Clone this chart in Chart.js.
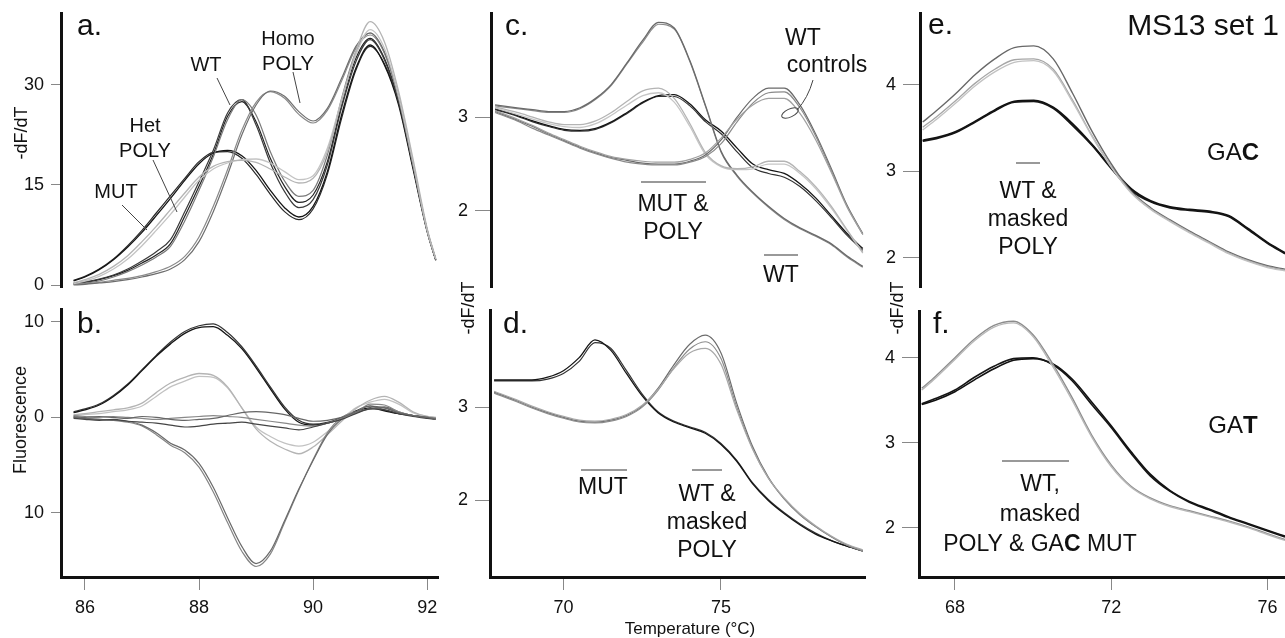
<!DOCTYPE html>
<html>
<head>
<meta charset="utf-8">
<script src="https://cdn.jsdelivr.net/npm/chart.js@4.4.1/dist/chart.umd.min.js"></script>
<style>
  body { margin: 0; background: #fff; }
  #fig { position: relative; width: 1285px; height: 638px; overflow: hidden; font-family: 'Liberation Sans', Arial, sans-serif; color: #111; }
  #fig canvas { position: absolute; }
  .lbl { position: absolute; white-space: nowrap; line-height: 1; transform: translateX(-50%); }
  .lft { position: absolute; white-space: nowrap; line-height: 1; }
  .rot { position: absolute; white-space: nowrap; line-height: 1; transform: translate(-50%, -50%) rotate(-90deg); font-size: 18px; }
  svg { position: absolute; left: 0; top: 0; }
</style>
</head>
<body>
<div id="fig">
  <canvas id="pa"></canvas>
  <canvas id="pb"></canvas>
  <canvas id="pc"></canvas>
  <canvas id="pd"></canvas>
  <canvas id="pe"></canvas>
  <canvas id="pf"></canvas>
  <svg width="1285" height="638">
    <g stroke="#444" stroke-width="1" fill="none">
      <line x1="217" y1="78" x2="230" y2="105"/>
      <line x1="293" y1="72" x2="300" y2="103"/>
      <line x1="153" y1="160" x2="177" y2="212"/>
      <line x1="122" y1="205" x2="147" y2="230"/>
      <path d="M813 80 Q808 98 797 110"/>
      <ellipse cx="790" cy="113" rx="9" ry="4" transform="rotate(-25 790 113)"/>
    </g>
    <g stroke="#777" stroke-width="1.5">
      <line x1="641" y1="182" x2="706" y2="182"/>
      <line x1="764" y1="255" x2="798" y2="255"/>
      <line x1="581" y1="470" x2="627" y2="470"/>
      <line x1="692" y1="470" x2="722" y2="470"/>
      <line x1="1016" y1="163" x2="1040" y2="163"/>
      <line x1="1002" y1="461" x2="1069" y2="461"/>
    </g>
  </svg>
  <div id="labels"></div>
</div>
<script>
// panel a / b : 85.8 - 92.15 °C
const tempsAB = [85.8, 86, 86.25, 86.5, 86.75, 87, 87.25, 87.5, 87.75, 88, 88.25, 88.5, 88.75, 89, 89.25, 89.5, 89.75, 90, 90.25, 90.5, 90.75, 91, 91.25, 91.5, 91.75, 92, 92.15];

const aMut1 = [0.6, 1.2, 2.3, 3.8, 5.7, 7.9, 10.4, 13.0, 15.7, 18.2, 19.8, 20.2, 19.4, 17.2, 14.2, 11.6, 10.2, 11.8, 17.0, 25.5, 32.5, 36.0, 33.0, 27.0, 17.5, 8.0, 3.7];
const aMut2 = [0.7, 1.3, 2.4, 3.9, 5.9, 8.2, 10.8, 13.4, 16.0, 18.5, 19.9, 20.0, 19.0, 16.6, 13.6, 11.0, 9.8, 11.4, 16.6, 25.0, 32.2, 35.8, 33.2, 27.3, 17.8, 8.2, 3.8];
const aHet1 = [0.3, 0.8, 1.6, 2.8, 4.4, 6.5, 8.8, 11.3, 13.8, 16.2, 17.8, 18.5, 18.7, 18.4, 17.4, 16.2, 15.3, 16.0, 20.0, 27.5, 35.0, 39.5, 36.5, 29.0, 19.0, 8.5, 4.0];
const aHet2 = [0.2, 0.6, 1.3, 2.4, 3.9, 5.9, 8.2, 10.6, 13.2, 15.7, 17.4, 18.3, 18.8, 18.9, 18.3, 17.0, 15.8, 16.4, 20.5, 27.8, 34.5, 38.3, 35.5, 28.3, 18.5, 8.2, 3.9];
const aWt1 = [0.2, 0.4, 0.8, 1.4, 2.2, 3.3, 4.5, 6.2, 10.3, 14.8, 19.6, 25.3, 27.5, 24.5, 19.0, 14.8, 12.4, 13.5, 18.5, 27.0, 34.0, 37.0, 34.0, 27.5, 18.0, 8.2, 3.8];
const aWt2 = [0.3, 0.5, 0.9, 1.5, 2.4, 3.6, 5.0, 6.8, 11.0, 15.5, 20.2, 25.8, 27.8, 24.0, 18.3, 14.0, 11.6, 12.8, 18.0, 26.6, 33.5, 36.8, 33.8, 27.4, 17.9, 8.1, 3.8];
const aWt3 = [0.1, 0.3, 0.6, 1.2, 2.0, 3.0, 4.2, 5.8, 9.6, 14.2, 19.2, 24.8, 27.8, 25.5, 20.0, 15.6, 13.3, 14.2, 19.5, 28.0, 35.0, 37.8, 34.8, 28.0, 18.2, 8.3, 3.9];
const aHomo1 = [0.0, 0.1, 0.3, 0.5, 0.8, 1.2, 1.7, 2.4, 3.8, 6.5, 11.0, 16.5, 22.5, 27.0, 29.1, 28.3, 26.0, 24.6, 26.5, 31.0, 35.8, 37.8, 35.0, 28.3, 18.3, 8.2, 3.8];
const aHomo2 = [0.1, 0.2, 0.4, 0.7, 1.0, 1.4, 2.0, 2.8, 4.3, 7.2, 11.8, 17.3, 23.2, 27.4, 29.0, 28.0, 25.6, 24.3, 26.2, 30.6, 35.5, 37.5, 34.8, 28.1, 18.1, 8.1, 3.8];

const bMut1 = [0.5, 0.8, 1.3, 2.2, 3.4, 4.9, 6.4, 7.7, 8.8, 9.4, 9.5, 8.6, 7.2, 5.2, 3.0, 0.9, -0.5, -0.8, -0.6, -0.1, 0.6, 1.0, 0.7, 0.4, 0.2, 0.0, -0.1];
const bMut2 = [0.6, 0.9, 1.4, 2.3, 3.5, 5.0, 6.5, 7.9, 9.0, 9.6, 9.8, 8.9, 7.4, 5.4, 3.2, 1.1, -0.3, -0.7, -0.5, 0.0, 0.7, 1.2, 0.8, 0.4, 0.2, 0.0, -0.1];
const bHet1 = [0.3, 0.4, 0.6, 0.8, 1.0, 1.5, 2.6, 3.6, 4.2, 4.6, 4.4, 3.2, 1.0, -1.2, -2.5, -3.3, -3.8, -3.1, -1.8, -0.4, 0.9, 1.8, 2.2, 1.6, 0.6, 0.1, 0.0];
const bHet2 = [0.2, 0.3, 0.4, 0.6, 0.8, 1.2, 2.2, 3.2, 3.8, 4.3, 4.2, 3.1, 1.0, -1.0, -2.0, -2.7, -3.0, -2.6, -1.5, -0.2, 1.0, 1.6, 1.9, 1.4, 0.5, 0.1, 0.0];
const bHomo1 = [0.0, -0.1, -0.2, -0.3, -0.4, -0.8, -1.6, -2.7, -3.4, -4.8, -7.3, -10.5, -13.5, -15.3, -14.0, -10.8, -7.5, -4.5, -1.8, -0.2, 0.5, 0.9, 1.1, 0.6, 0.2, 0.0, -0.1];
const bHomo2 = [0.0, -0.1, -0.2, -0.3, -0.5, -0.9, -1.8, -2.9, -3.7, -5.2, -7.8, -11.0, -14.0, -15.6, -14.3, -11.0, -7.6, -4.4, -1.6, 0.0, 0.6, 0.9, 1.0, 0.5, 0.2, 0.0, -0.1];
const bWt1 = [0.1, 0.0, 0.1, 0.0, -0.1, 0.1, 0.0, -0.2, -0.3, -0.2, -0.1, 0.2, 0.5, 0.6, 0.5, 0.3, -0.1, -0.4, -0.3, 0.0, 0.6, 1.2, 1.0, 0.5, 0.2, 0.0, -0.2];
const bWt2 = [-0.1, -0.2, -0.3, -0.2, -0.4, -0.5, -0.6, -0.8, -1.0, -0.9, -0.7, -0.6, -0.5, -0.7, -0.9, -1.1, -1.3, -1.0, -0.6, -0.2, 0.4, 0.9, 0.8, 0.4, 0.1, -0.1, -0.2];
const bWt3 = [0.2, 0.1, 0.0, 0.1, 0.0, -0.1, -0.2, -0.1, 0.0, 0.1, 0.2, 0.1, 0.0, -0.2, -0.4, -0.6, -0.8, -0.9, -0.6, -0.1, 0.5, 1.4, 1.3, 0.6, 0.2, 0.0, -0.1];

// panel c / d : 67.8 - 79.5 °C
const tempsCD = [67.8, 68.5, 69, 69.5, 70, 70.5, 71, 71.5, 72, 72.5, 73, 73.5, 74, 74.5, 75, 75.5, 76, 76.5, 77, 77.5, 78, 78.5, 79, 79.5];

const cTall1 = [3.13, 3.10, 3.08, 3.06, 3.06, 3.10, 3.20, 3.35, 3.58, 3.82, 4.01, 3.95, 3.60, 3.12, 2.63, 2.38, 2.20, 2.05, 1.92, 1.82, 1.74, 1.65, 1.52, 1.41];
const cTall2 = [3.12, 3.09, 3.07, 3.05, 3.05, 3.09, 3.19, 3.34, 3.57, 3.80, 3.99, 3.94, 3.59, 3.11, 2.62, 2.37, 2.19, 2.04, 1.91, 1.81, 1.73, 1.64, 1.51, 1.40];
const cLight1 = [3.11, 3.05, 3.00, 2.95, 2.92, 2.92, 2.96, 3.05, 3.17, 3.28, 3.31, 3.20, 2.93, 2.62, 2.48, 2.45, 2.47, 2.53, 2.53, 2.42, 2.26, 2.05, 1.80, 1.56];
const cLight2 = [3.10, 3.03, 2.98, 2.93, 2.90, 2.89, 2.93, 3.02, 3.13, 3.23, 3.26, 3.16, 2.90, 2.60, 2.47, 2.44, 2.45, 2.50, 2.50, 2.40, 2.24, 2.03, 1.79, 1.55];
const cBlack1 = [3.09, 3.02, 2.96, 2.91, 2.87, 2.86, 2.88, 2.95, 3.05, 3.16, 3.23, 3.24, 3.14, 2.97, 2.85, 2.67, 2.50, 2.44, 2.40, 2.29, 2.14, 1.95, 1.76, 1.60];
const cBlack2 = [3.08, 3.01, 2.95, 2.90, 2.86, 2.85, 2.87, 2.94, 3.04, 3.15, 3.22, 3.22, 3.12, 2.95, 2.82, 2.63, 2.46, 2.40, 2.36, 2.26, 2.11, 1.93, 1.74, 1.58];
const cWt1 = [3.06, 2.97, 2.90, 2.82, 2.75, 2.68, 2.62, 2.57, 2.54, 2.51, 2.50, 2.50, 2.53, 2.60, 2.76, 3.00, 3.20, 3.31, 3.31, 3.13, 2.82, 2.45, 2.06, 1.76];
const cWt2 = [3.05, 2.96, 2.88, 2.81, 2.74, 2.67, 2.61, 2.56, 2.52, 2.50, 2.49, 2.49, 2.52, 2.58, 2.72, 2.95, 3.15, 3.26, 3.27, 3.10, 2.80, 2.43, 2.05, 1.75];
const cWt3 = [3.07, 2.98, 2.91, 2.83, 2.76, 2.69, 2.63, 2.58, 2.55, 2.53, 2.52, 2.52, 2.55, 2.62, 2.78, 2.98, 3.13, 3.20, 3.20, 3.04, 2.76, 2.41, 2.04, 1.75];

const dMut1 = [3.29, 3.29, 3.29, 3.32, 3.39, 3.53, 3.72, 3.61, 3.36, 3.12, 2.94, 2.84, 2.78, 2.72, 2.60, 2.42, 2.18, 2.00, 1.86, 1.74, 1.64, 1.57, 1.51, 1.46];
const dMut2 = [3.28, 3.28, 3.28, 3.30, 3.36, 3.49, 3.69, 3.63, 3.39, 3.14, 2.95, 2.85, 2.79, 2.73, 2.61, 2.43, 2.19, 2.01, 1.87, 1.75, 1.65, 1.57, 1.51, 1.46];
const dWt1 = [3.16, 3.07, 3.00, 2.94, 2.89, 2.85, 2.84, 2.86, 2.91, 3.01, 3.20, 3.45, 3.67, 3.77, 3.58, 3.04, 2.58, 2.25, 2.02, 1.85, 1.72, 1.61, 1.52, 1.46];
const dWt2 = [3.15, 3.06, 2.99, 2.93, 2.88, 2.84, 2.83, 2.85, 2.90, 3.00, 3.18, 3.42, 3.62, 3.70, 3.52, 3.00, 2.56, 2.24, 2.02, 1.85, 1.72, 1.61, 1.52, 1.46];
const dWt3 = [3.17, 3.08, 3.01, 2.95, 2.90, 2.86, 2.85, 2.87, 2.92, 3.02, 3.19, 3.41, 3.58, 3.63, 3.46, 2.97, 2.55, 2.24, 2.03, 1.86, 1.73, 1.62, 1.53, 1.47];

// panel e / f : 67.15 - 76.45 °C
const tempsEF = [67.15, 67.5, 68, 68.5, 69, 69.5, 70, 70.5, 71, 71.5, 72, 72.5, 73, 73.5, 74, 74.5, 75, 75.5, 76, 76.45];

const eTop = [3.57, 3.70, 3.90, 4.12, 4.30, 4.43, 4.45, 4.30, 3.90, 3.46, 3.08, 2.77, 2.58, 2.44, 2.31, 2.19, 2.07, 1.98, 1.91, 1.87];
const eLight1 = [3.51, 3.63, 3.82, 4.02, 4.18, 4.29, 4.30, 4.18, 3.82, 3.41, 3.05, 2.76, 2.57, 2.43, 2.30, 2.18, 2.06, 1.97, 1.90, 1.86];
const eLight2 = [3.48, 3.60, 3.79, 3.99, 4.15, 4.26, 4.28, 4.16, 3.80, 3.40, 3.04, 2.75, 2.56, 2.42, 2.29, 2.17, 2.05, 1.96, 1.89, 1.85];
const eBlack1 = [3.35, 3.38, 3.45, 3.57, 3.70, 3.80, 3.81, 3.73, 3.53, 3.30, 3.03, 2.78, 2.65, 2.58, 2.55, 2.53, 2.48, 2.33, 2.17, 2.05];
const eBlack2 = [3.36, 3.39, 3.46, 3.58, 3.71, 3.81, 3.82, 3.74, 3.55, 3.31, 3.04, 2.80, 2.66, 2.59, 2.56, 2.54, 2.49, 2.34, 2.18, 2.06];

const fGray1 = [3.64, 3.78, 4.00, 4.22, 4.38, 4.43, 4.27, 3.93, 3.53, 3.09, 2.74, 2.49, 2.35, 2.26, 2.20, 2.14, 2.08, 2.01, 1.93, 1.86];
const fGray2 = [3.62, 3.76, 3.98, 4.20, 4.36, 4.41, 4.25, 3.90, 3.50, 3.07, 2.72, 2.48, 2.34, 2.25, 2.19, 2.13, 2.07, 2.00, 1.92, 1.85];
const fBlack1 = [3.46, 3.52, 3.62, 3.77, 3.90, 3.99, 4.00, 3.92, 3.73, 3.45, 3.18, 2.88, 2.61, 2.43, 2.30, 2.21, 2.12, 2.04, 1.96, 1.89];
const fBlack2 = [3.45, 3.50, 3.60, 3.74, 3.87, 3.97, 3.99, 3.93, 3.75, 3.48, 3.20, 2.90, 2.63, 2.44, 2.31, 2.22, 2.13, 2.05, 1.97, 1.90];

// tick labels
const xTicksAB = [86, 88, 90, 92];
const xTicksCD = [70, 75];
const xTicksEF = [68, 72, 76];
const yTicksA = [0, 15, 30];
const yTicksB = [-10, 0, 10];
const yTicksCD = [2, 3];
const yTicksEF = [2, 3, 4];

const tickFont = { family: "'Liberation Sans', Arial, sans-serif", size: 18 };

function line(temps, vals, color, width) {
    return {
        data: temps.map((t, i) => ({ x: t, y: vals[i] })),
        borderColor: color,
        borderWidth: width || 1.2,
        pointRadius: 0,
        fill: false,
        cubicInterpolationMode: 'monotone'
    };
}

// area = chart area in page pixels [left, top, right, bottom]
function makePanel(id, area, xr, yr, xTicks, yTicks, datasets, opts) {
    const yW = opts.yW, xH = opts.xH || 0, padT = 4, padR = 4;
    const padB = opts.showX ? 0 : 14;   // room for the lowest y label when no x axis
    const cv = document.getElementById(id);
    const w = area[2] - area[0] + yW + padR;
    const h = area[3] - area[1] + padT + xH + padB;
    cv.width = w; cv.height = h;
    cv.style.left = (area[0] - yW) + 'px';
    cv.style.top = (area[1] - padT) + 'px';
    cv.style.width = w + 'px';
    cv.style.height = h + 'px';

    new Chart(cv.getContext('2d'), {
        type: 'line',
        data: { datasets: datasets },
        options: {
            responsive: false,
            animation: false,
            events: [],
            layout: { padding: { top: padT, right: padR, left: 0, bottom: padB } },
            plugins: { legend: { display: false }, tooltip: { enabled: false } },
            scales: {
                x: {
                    type: 'linear', min: xr[0], max: xr[1],
                    display: !!opts.showX,
                    border: { display: true, color: '#111', width: 3 },
                    grid: { display: true, drawOnChartArea: false, drawTicks: true, tickLength: 13, color: '#888' },
                    ticks: { font: tickFont, color: '#111', padding: 7, maxRotation: 0 },
                    afterBuildTicks: s => { s.ticks = xTicks.map(v => ({ value: v })); },
                    afterFit: s => { s.height = xH; s.paddingLeft = 0; s.paddingRight = 0; }
                },
                y: {
                    type: 'linear', min: yr[0], max: yr[1],
                    border: { display: true, color: '#111', width: 3 },
                    grid: { display: true, drawOnChartArea: false, drawTicks: true, tickLength: opts.tickLen, color: '#888' },
                    ticks: { font: tickFont, color: '#111', padding: 7, callback: opts.yFmt || (v => v) },
                    afterBuildTicks: s => { s.ticks = yTicks.map(v => ({ value: v })); },
                    afterFit: s => { s.width = yW; s.paddingTop = 0; s.paddingBottom = 0; }
                }
            }
        }
    });
}

const blk = '#151515', mgr = '#7a7a7a', lgr = '#b4b4b4';

makePanel('pa', [61, 13, 438, 287], [85.58, 92.19], [-0.3, 40.8], xTicksAB, yTicksA, [
    line(tempsAB, aHet1, lgr, 1.3), line(tempsAB, aHet2, '#c4c4c4', 1.3),
    line(tempsAB, aHomo1, '#6e6e6e'), line(tempsAB, aHomo2, '#8a8a8a'),
    line(tempsAB, aWt3, mgr), line(tempsAB, aWt2, '#3a3a3a'), line(tempsAB, aWt1, '#222'),
    line(tempsAB, aMut1, blk, 1.3), line(tempsAB, aMut2, '#2a2a2a')
], { yW: 61, tickLen: 10 });

makePanel('pb', [61, 309, 438, 577], [85.58, 92.19], [-16.7, 11.35], xTicksAB, yTicksB, [
    line(tempsAB, bWt1, '#666'), line(tempsAB, bWt2, '#444'), line(tempsAB, bWt3, '#888'),
    line(tempsAB, bHomo1, '#6a6a6a'), line(tempsAB, bHomo2, '#858585'),
    line(tempsAB, bHet1, lgr, 1.3), line(tempsAB, bHet2, '#c2c2c2', 1.3),
    line(tempsAB, bMut1, blk, 1.3), line(tempsAB, bMut2, '#333')
], { yW: 61, tickLen: 10, showX: true, xH: 48, yFmt: v => Math.abs(v) });

makePanel('pc', [491, 13, 865, 287], [67.67, 79.57], [1.19, 4.11], xTicksCD, yTicksCD, [
    line(tempsCD, cWt3, '#a0a0a0'), line(tempsCD, cWt2, '#8a8a8a'), line(tempsCD, cWt1, '#6a6a6a'),
    line(tempsCD, cLight1, lgr, 1.3), line(tempsCD, cLight2, '#c6c6c6', 1.3),
    line(tempsCD, cTall1, '#6a6a6a', 1.3), line(tempsCD, cTall2, '#8a8a8a'),
    line(tempsCD, cBlack1, blk, 1.3), line(tempsCD, cBlack2, '#333')
], { yW: 60, tickLen: 16 });

makePanel('pd', [490, 310, 865, 577], [67.67, 79.57], [1.18, 4.04], xTicksCD, yTicksCD, [
    line(tempsCD, dWt3, '#a8a8a8'), line(tempsCD, dWt2, '#8c8c8c'), line(tempsCD, dWt1, '#6c6c6c'),
    line(tempsCD, dMut1, blk, 1.3), line(tempsCD, dMut2, '#333')
], { yW: 60, tickLen: 15, showX: true, xH: 48 });

makePanel('pe', [920, 13, 1285, 287], [67.08, 76.45], [1.665, 4.83], xTicksEF, yTicksEF, [
    line(tempsEF, eLight2, '#c2c2c2', 1.3), line(tempsEF, eLight1, '#a6a6a6', 1.3),
    line(tempsEF, eTop, '#686868', 1.4),
    line(tempsEF, eBlack1, blk, 1.8), line(tempsEF, eBlack2, '#111', 1.8)
], { yW: 60, tickLen: 17 });

makePanel('pf', [919, 311, 1285, 577], [67.08, 76.45], [1.42, 4.55], xTicksEF, yTicksEF, [
    line(tempsEF, fGray2, '#b8b8b8', 1.4), line(tempsEF, fGray1, '#8c8c8c', 1.4),
    line(tempsEF, fBlack1, blk, 1.6), line(tempsEF, fBlack2, '#111', 1.6)
], { yW: 60, tickLen: 17, showX: true, xH: 48 });

// text annotations: [html, x, baseline, size, centred]
const notes = [
    ['a.', 77, 35, 30, false], ['b.', 77, 333, 30, false],
    ['c.', 505, 35, 30, false], ['d.', 503, 333, 30, false],
    ['e.', 928, 34, 30, false], ['f.', 933, 333, 30, false],
    ['WT', 206, 71, 20, true], ['Homo', 288, 45, 20, true], ['POLY', 288, 70, 20, true],
    ['Het', 145, 132, 20, true], ['POLY', 145, 157, 20, true], ['MUT', 116, 198, 20, true],
    ['WT', 803, 46, 23, true], ['controls', 827, 73, 23, true],
    ['MUT &amp;', 673, 212, 23, true], ['POLY', 673, 240, 23, true], ['WT', 781, 283, 23, true],
    ['MUT', 603, 495, 23, true], ['WT &amp;', 707, 502, 23, true], ['masked', 707, 530, 23, true], ['POLY', 707, 558, 23, true],
    ['MS13 set 1', 1203, 35, 30, true], ['GA<b>C</b>', 1233, 160, 24, true],
    ['WT &amp;', 1028, 199, 23, true], ['masked', 1028, 227, 23, true], ['POLY', 1028, 255, 23, true],
    ['GA<b>T</b>', 1233, 433, 24, true],
    ['WT,', 1040, 492, 23, true], ['masked', 1040, 522, 23, true], ['POLY &amp; GA<b>C</b> MUT', 1040, 552, 23, true],
    ['Temperature (°C)', 690, 634, 17, true]
];
const holder = document.getElementById('labels');
notes.forEach(n => {
    const d = document.createElement('div');
    d.className = n[4] ? 'lbl' : 'lft';
    d.innerHTML = n[0];
    d.style.left = n[1] + 'px';
    d.style.top = (n[2] - 0.85 * n[3]) + 'px';
    d.style.fontSize = n[3] + 'px';
    holder.appendChild(d);
});
[['-dF/dT', 21, 133], ['Fluorescence', 20, 420], ['-dF/dT', 468, 308], ['-dF/dT', 897, 308]].forEach(n => {
    const d = document.createElement('div');
    d.className = 'rot';
    d.textContent = n[0];
    d.style.left = n[1] + 'px';
    d.style.top = n[2] + 'px';
    holder.appendChild(d);
});
</script>
</body>
</html>
